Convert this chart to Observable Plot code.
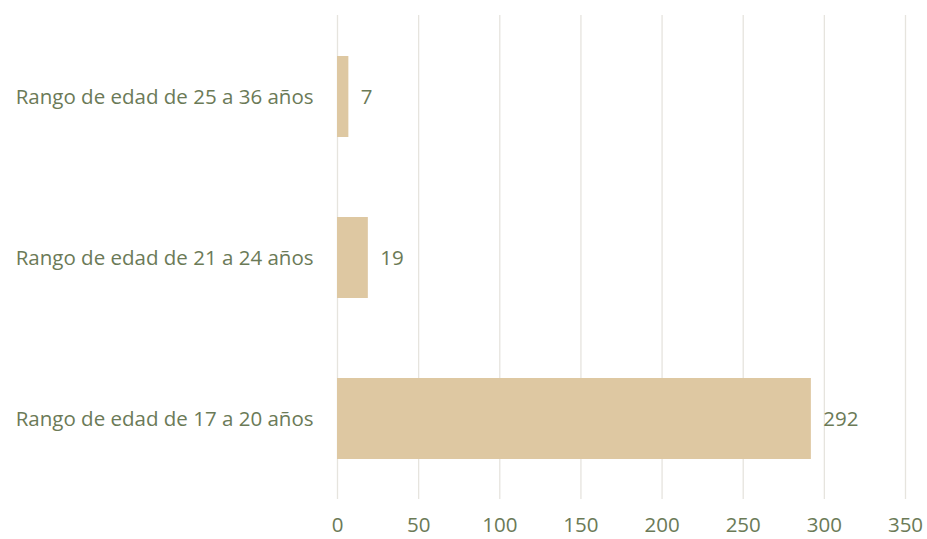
<!DOCTYPE html>
<html><head><meta charset="utf-8">
<script src="https://cdn.jsdelivr.net/npm/d3@7"></script>
<script src="https://cdn.jsdelivr.net/npm/@observablehq/plot@0.6"></script>
<style>body{margin:0;background:#fff}</style>
</head><body><div id="chart"></div>
<script>
const categories = ["Rango de edad de 25 a 36 años", "Rango de edad de 21 a 24 años", "Rango de edad de 17 a 20 años"];
const values = [7, 19, 292];
const xTicks = [0, 50, 100, 150, 200, 250, 300, 350];
const data = categories.map((c, i) => ({category: c, value: values[i]}));
const textColor = "#6b7a57";
const fs = 20.5;
const chart = Plot.plot({
  width: 927, height: 539,
  marginLeft: 337, marginRight: 22, marginTop: 15, marginBottom: 40,
  style: {fontFamily: "'Open Sans', Lato, sans-serif", fontSize: fs + "px", color: textColor, background: "#fff"},
  x: {domain: [0, 350], ticks: xTicks, label: null, tickSize: 0, tickPadding: 18},
  y: {domain: categories, paddingInner: 0.5, paddingOuter: 0.25, label: null, tickSize: 0, tickPadding: 24},
  marks: [
    Plot.gridX(xTicks, {stroke: "#e6e4de", strokeOpacity: 1, strokeWidth: 1.3}),
    Plot.barX(data, {x: "value", y: "category", fill: "#dec8a2"}),
    Plot.text(data, {x: "value", y: "category", text: d => String(d.value), textAnchor: "start", dx: 12, fill: textColor, fontSize: fs}),
    Plot.axisX({ticks: xTicks, tickSize: 0, tickPadding: 18, fontSize: fs, fill: textColor}),
    Plot.axisY({tickSize: 0, tickPadding: 24, fontSize: fs, fill: textColor})
  ]
});
document.getElementById("chart").appendChild(chart);
</script></body></html>
